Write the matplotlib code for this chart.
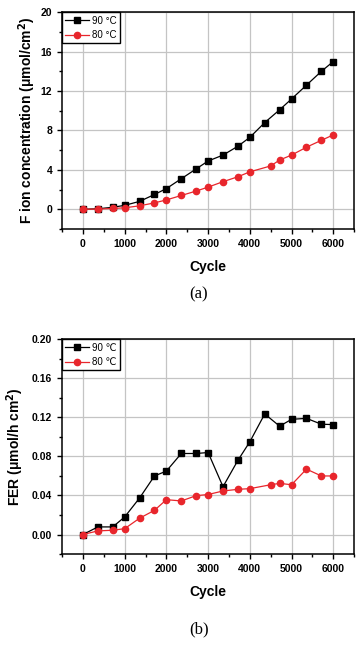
import matplotlib
matplotlib.use("Agg")
import matplotlib.pyplot as plt
from matplotlib.ticker import MultipleLocator

#---------------------------
# DATA
#---------------------------
cycle_90 = [0, 357, 714, 1000, 1357, 1714, 2000, 2357, 2714, 3000,
            3357, 3714, 4000, 4357, 4714, 5000, 5357, 5714, 6000]
cycle_80 = [0, 357, 714, 1000, 1357, 1714, 2000, 2357, 2714, 3000,
            3357, 3714, 4000, 4500, 4714, 5000, 5357, 5714, 6000]

conc_90 = [0, 0.05, 0.2, 0.4, 0.8, 1.5, 2.1, 3.1, 4.1, 4.9,
           5.5, 6.4, 7.3, 8.8, 10.1, 11.2, 12.6, 14.0, 15.0]
conc_80 = [0, 0.02, 0.08, 0.15, 0.35, 0.65, 0.95, 1.4, 1.85, 2.25,
           2.8, 3.3, 3.8, 4.4, 5.0, 5.5, 6.3, 7.0, 7.55]

fer_90 = [0, 0.0078, 0.0078, 0.018, 0.0374, 0.060, 0.065, 0.083, 0.083, 0.084,
          0.049, 0.076, 0.095, 0.1235, 0.111, 0.118, 0.119, 0.113, 0.1126]
fer_80 = [0, 0.0037, 0.0044, 0.006, 0.0167, 0.0248, 0.0357, 0.0344, 0.0398, 0.041,
          0.0446, 0.0463, 0.047, 0.051, 0.0524, 0.051, 0.067, 0.060, 0.060]

x_ticks = [0, 1000, 2000, 3000, 4000, 5000, 6000]

SANS = ["Liberation Sans", "DejaVu Sans"]
RED = "#e8262c"

fig = plt.figure(figsize=(3.61, 6.45), dpi=100)


def style_axes(ax, ymin, ymax, ystep, fmt):
    ax.set_xlim(-500, 6500)
    ax.set_ylim(ymin, ymax)
    ax.set_xticks(x_ticks)
    ax.xaxis.set_minor_locator(MultipleLocator(500))
    ax.yaxis.set_major_locator(MultipleLocator(ystep))
    ax.yaxis.set_minor_locator(MultipleLocator(ystep / 2))
    ax.set_yticklabels([fmt.format(v) for v in ax.get_yticks()])
    ax.grid(True, color="#c4c4c4", linewidth=0.9)
    ax.set_axisbelow(True)
    for s in ax.spines.values():
        s.set_linewidth(1.1)
    ax.tick_params(which="both", direction="out", top=False, right=False, width=1.0)
    ax.tick_params(which="major", length=3.5)
    ax.tick_params(which="minor", length=2)
    for lab in ax.get_xticklabels() + ax.get_yticklabels():
        lab.set_fontfamily(SANS)
        lab.set_fontweight("bold")
        lab.set_fontsize(7.5)
    ax.set_xlabel("Cycle", fontfamily=SANS, fontweight="bold", fontsize=10, labelpad=8)


def add_lines(ax, y90, y80, lab90, lab80):
    ax.plot(cycle_90, y90, color="black", lw=0.9, marker="s", ms=4.3, label=lab90)
    ax.plot(cycle_80, y80, color=RED, lw=0.9, marker="o", ms=4.5, label=lab80)
    leg = ax.legend(loc="upper left", borderaxespad=0, fancybox=False,
                    edgecolor="black", framealpha=1, handlelength=2.4,
                    handletextpad=0.3, borderpad=0.35, labelspacing=0.45,
                    prop={"family": SANS, "size": 7})
    leg.get_frame().set_linewidth(1.0)


# (a) fluoride ion concentration
ax0 = fig.add_axes([0.172, 0.645, 0.809, 0.336])
add_lines(ax0, conc_90, conc_80, "90 °C", "80 °C")
style_axes(ax0, -2, 20, 4, "{:.0f}")
ax0.set_ylabel("F ion concentration (\u03bcmol/cm$^{\\mathbf{2}}$)",
               fontfamily=SANS, fontweight="bold", fontsize=10, labelpad=2)
fig.text(0.551, 1 - 294 / 645, "(a)", family="Liberation Serif", fontsize=12,
         ha="center", va="center")

# (b) fluoride emission rate
ax1 = fig.add_axes([0.172, 0.141, 0.809, 0.333])
add_lines(ax1, fer_90, fer_80, "90 \u2103", "80 \u2103")
style_axes(ax1, -0.02, 0.20, 0.04, "{:.2f}")
ax1.set_ylabel("FER (\u03bcmol/h cm$^{\\mathbf{2}}$)",
               fontfamily=SANS, fontweight="bold", fontsize=10, labelpad=4)
fig.text(0.551, 1 - 629 / 645, "(b)", family="Liberation Serif", fontsize=12,
         ha="center", va="center")

fig.savefig("out.png", dpi=100)
